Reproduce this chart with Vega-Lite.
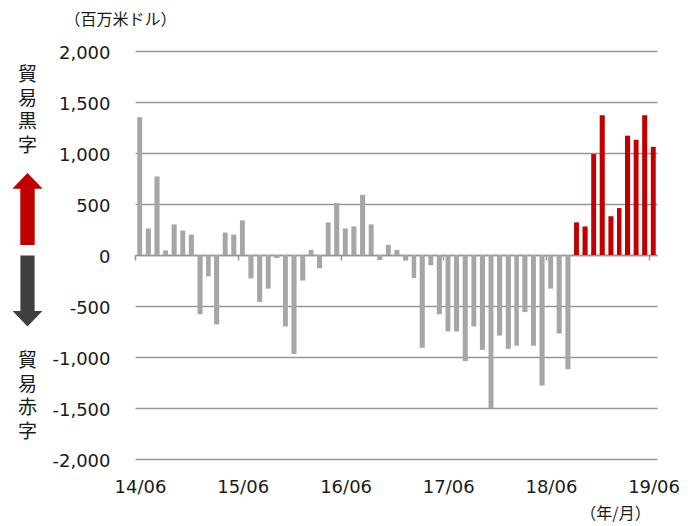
{
  "$schema": "https://vega.github.io/schema/vega-lite/v6.json",
  "padding": {"left": 5, "top": 11, "right": 5, "bottom": 2},
  "background": "white",
  "config": {"view": {"stroke": null}, "font": "DejaVu Sans"},
  "spacing": 85,
  "bounds": "flush",
  "hconcat": [
    {
      "width": 45,
      "height": 408,
      "layer": [
        {
          "data": {"values": [{}]},
          "mark": {"type": "text", "font": "Noto Sans CJK JP", "fontSize": 19, "lineHeight": 23.5, "color": "#1a1a1a", "baseline": "middle", "align": "center"},
          "encoding": {
            "y": {"datum": 1760, "type": "quantitative", "scale": {"domain": [-2000, 2000], "nice": false}, "axis": null},
            "text": {"value": ["貿", "易", "黒", "字"]}
          }
        },
        {
          "data": {"values": [{}]},
          "mark": {"type": "text", "font": "Noto Sans CJK JP", "fontSize": 19, "lineHeight": 23.5, "color": "#1a1a1a", "baseline": "middle", "align": "center"},
          "encoding": {
            "y": {"datum": -1044, "type": "quantitative"},
            "text": {"value": ["貿", "易", "赤", "字"]}
          }
        },
        {
          "data": {"values": [{}]},
          "mark": {"type": "point", "shape": "M0,-1L0.42,-0.56L0.2,-0.56L0.2,1L-0.2,1L-0.2,-0.56L-0.42,-0.56Z", "size": 5184, "filled": true, "fill": "#C00000", "opacity": 1, "strokeWidth": 0},
          "encoding": {"y": {"datum": 451, "type": "quantitative"}}
        },
        {
          "data": {"values": [{}]},
          "mark": {"type": "point", "shape": "M0,1L0.42,0.56L0.2,0.56L0.2,-1L-0.2,-1L-0.2,0.56L-0.42,0.56Z", "size": 5041, "filled": true, "fill": "#404040", "opacity": 1, "strokeWidth": 0},
          "encoding": {"y": {"datum": -353, "type": "quantitative"}}
        }
      ]
    },
    {
      "width": 522,
      "height": 408,
      "data": {
        "values": [
          {"month": "2014-06", "value": 1350},
          {"month": "2014-07", "value": 260},
          {"month": "2014-08", "value": 770},
          {"month": "2014-09", "value": 45},
          {"month": "2014-10", "value": 300},
          {"month": "2014-11", "value": 240},
          {"month": "2014-12", "value": 200},
          {"month": "2015-01", "value": -580},
          {"month": "2015-02", "value": -210},
          {"month": "2015-03", "value": -680},
          {"month": "2015-04", "value": 220},
          {"month": "2015-05", "value": 200},
          {"month": "2015-06", "value": 340},
          {"month": "2015-07", "value": -230},
          {"month": "2015-08", "value": -460},
          {"month": "2015-09", "value": -330},
          {"month": "2015-10", "value": -30},
          {"month": "2015-11", "value": -700},
          {"month": "2015-12", "value": -970},
          {"month": "2016-01", "value": -250},
          {"month": "2016-02", "value": 50},
          {"month": "2016-03", "value": -130},
          {"month": "2016-04", "value": 320},
          {"month": "2016-05", "value": 510},
          {"month": "2016-06", "value": 260},
          {"month": "2016-07", "value": 280},
          {"month": "2016-08", "value": 590},
          {"month": "2016-09", "value": 300},
          {"month": "2016-10", "value": -50},
          {"month": "2016-11", "value": 100},
          {"month": "2016-12", "value": 50},
          {"month": "2017-01", "value": -55},
          {"month": "2017-02", "value": -225},
          {"month": "2017-03", "value": -910},
          {"month": "2017-04", "value": -100},
          {"month": "2017-05", "value": -580},
          {"month": "2017-06", "value": -750},
          {"month": "2017-07", "value": -750},
          {"month": "2017-08", "value": -1040},
          {"month": "2017-09", "value": -700},
          {"month": "2017-10", "value": -930},
          {"month": "2017-11", "value": -1500},
          {"month": "2017-12", "value": -790},
          {"month": "2018-01", "value": -920},
          {"month": "2018-02", "value": -890},
          {"month": "2018-03", "value": -560},
          {"month": "2018-04", "value": -890},
          {"month": "2018-05", "value": -1280},
          {"month": "2018-06", "value": -330},
          {"month": "2018-07", "value": -770},
          {"month": "2018-08", "value": -1120},
          {"month": "2018-09", "value": 320},
          {"month": "2018-10", "value": 280},
          {"month": "2018-11", "value": 990},
          {"month": "2018-12", "value": 1370},
          {"month": "2019-01", "value": 380},
          {"month": "2019-02", "value": 460},
          {"month": "2019-03", "value": 1170},
          {"month": "2019-04", "value": 1130},
          {"month": "2019-05", "value": 1370},
          {"month": "2019-06", "value": 1060}
        ]
      },
      "layer": [
        {
          "mark": {"type": "bar", "width": {"band": 0.7}},
          "encoding": {
            "x": {
              "field": "month",
              "type": "temporal",
              "timeUnit": "utcyearmonth",
              "scale": {
                "domain": [
                  {"year": 2014, "month": 6, "date": 1, "utc": true},
                  {"year": 2019, "month": 7, "date": 1, "utc": true}
                ],
                "nice": false
              },
              "axis": {
                "orient": "bottom",
                "values": [
                  {"year": 2014, "month": 6, "date": 1, "utc": true},
                  {"year": 2015, "month": 6, "date": 1, "utc": true},
                  {"year": 2016, "month": 6, "date": 1, "utc": true},
                  {"year": 2017, "month": 6, "date": 1, "utc": true},
                  {"year": 2018, "month": 6, "date": 1, "utc": true},
                  {"year": 2019, "month": 6, "date": 1, "utc": true}
                ],
                "format": "%y/%m",
                "domain": false,
                "ticks": false,
                "tickSize": 0,
                "grid": false,
                "labelPadding": 19,
                "labelOffset": 5,
                "labelFontSize": 18,
                "labelFont": "DejaVu Sans",
                "labelColor": "#1a1a1a",
                "labelFlush": false,
                "labelOverlap": false,
                "title": "（年/月）",
                "titleFont": "Noto Sans CJK JP",
                "titleFontSize": 16,
                "titleFontWeight": "normal",
                "titleColor": "#1a1a1a",
                "titleX": 480,
                "titleY": 54,
                "titleAlign": "center",
                "titleBaseline": "middle"
              }
            },
            "y": {
              "field": "value",
              "type": "quantitative",
              "scale": {"domain": [-2000, 2000], "nice": false},
              "axis": {
                "values": [-2000, -1500, -1000, -500, 0, 500, 1000, 1500, 2000],
                "labelExpr": "replace(format(datum.value, ','), '−', '-')",
                "domain": false,
                "ticks": false,
                "tickSize": 0,
                "labelPadding": 25,
                "labelFontSize": 18,
                "labelFont": "DejaVu Sans",
                "labelColor": "#1a1a1a",
                "labelOffset": 2,
                "grid": true,
                "gridColor": "#969696",
                "gridWidth": 1.5,
                "title": "（百万米ドル）",
                "titleAngle": 0,
                "titleX": -15,
                "titleY": -32,
                "titleAlign": "center",
                "titleBaseline": "middle",
                "titleFont": "Noto Sans CJK JP",
                "titleFontSize": 16,
                "titleFontWeight": "normal",
                "titleColor": "#1a1a1a"
              }
            },
            "color": {
              "condition": {"test": "time(datum.month) >= utc(2018, 8, 1)", "value": "#C00000"},
              "value": "#A6A6A6"
            }
          }
        },
        {
          "mark": {"type": "point", "opacity": 0},
          "encoding": {
            "x": {
              "field": "month",
              "type": "temporal",
              "timeUnit": "utcyearmonth",
              "axis": {
                "orient": "bottom",
                "offset": -204,
                "values": [
                  {"year": 2014, "month": 6, "date": 1, "utc": true},
                  {"year": 2015, "month": 6, "date": 1, "utc": true},
                  {"year": 2016, "month": 6, "date": 1, "utc": true},
                  {"year": 2017, "month": 6, "date": 1, "utc": true},
                  {"year": 2018, "month": 6, "date": 1, "utc": true},
                  {"year": 2019, "month": 6, "date": 1, "utc": true}
                ],
                "labels": false,
                "domain": true,
                "domainColor": "#969696",
                "domainWidth": 1.5,
                "ticks": true,
                "tickSize": 5,
                "tickColor": "#969696",
                "tickWidth": 1.5,
                "grid": false,
                "title": null
              }
            },
            "y": {"field": "value", "type": "quantitative"}
          }
        }
      ],
      "resolve": {"axis": {"x": "independent"}}
    }
  ]
}
